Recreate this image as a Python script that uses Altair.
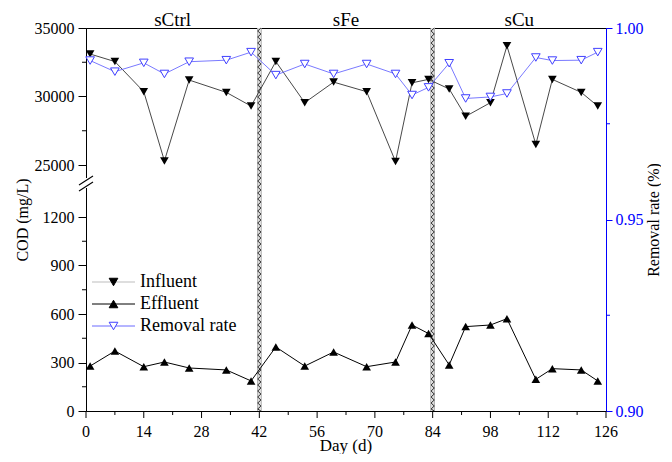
import altair as alt
import pandas as pd

# ---------------- data ----------------
days = [1, 7, 14, 19, 25, 34, 40, 46, 53, 60, 68, 75, 79, 83, 88, 92, 98, 102, 109, 113, 120, 124]
influent = [33100, 32550, 30350, 25300, 31200, 30300, 29300, 32550, 29550, 31050, 30350,
            25250, 31000, 31250, 30550, 28550, 29550, 33700, 26500, 31250, 30300, 29300]
effluent = [278, 371, 274, 303, 266, 254, 186, 396, 278, 365, 274,
            303, 532, 479, 285, 522, 532, 571, 196, 262, 254, 186]
removal = [0.9915, 0.9886, 0.9909, 0.9880, 0.9912, 0.9916, 0.9937, 0.9877, 0.9906, 0.9880, 0.9906,
           0.9880, 0.9825, 0.9845, 0.9908, 0.9816, 0.9820, 0.9829, 0.9923, 0.9915, 0.9916, 0.9937]

sections = ["sCtrl", "sFe", "sCu"]
section_mid = [21, 63, 105]
dividers = [42, 84]
x_ticks = [0, 14, 28, 42, 56, 70, 84, 98, 112, 126]
x_minor = [7, 21, 35, 49, 63, 77, 91, 105, 119]
cod_ticks = [0, 300, 600, 900, 1200, 25000, 30000, 35000]
cod_minor = [150, 450, 750, 1050, 27500, 32500]
rate_ticks = [0.90, 0.95, 1.00]
rate_minor = [0.925, 0.975]
legend_labels = ["Influent", "Effluent", "Removal rate"]
legend_line_colors = ["#bdbdbd", "black", "#6a6aff"]
legend_shapes = ["triangle-down", "triangle-up", "triangle-down"]
legend_fills = ["black", "black", "white"]
legend_strokes = ["black", "black", "#4040ff"]

# ---------------- layout constants ----------------
W, H = 520, 383
BOT = 194 / 1200          # px per mg/L, lower segment
TB = 246                  # px height of 25000
TS = 137 / 10000          # px per mg/L, upper segment
FONT = "Liberation Serif"
BLUE = "#0000ff"


def u_of(v):
    return v * BOT if v < 5000 else TB + (v - 25000) * TS


def u_expr(f):
    return f"datum.{f} < 5000 ? datum.{f} * {BOT} : {TB} + (datum.{f} - 25000) * {TS}"


def r_of(r):
    return (r - 0.9) / 0.1 * H


def r_expr(f):
    return f"(datum.{f} - 0.9) / 0.1 * {H}"


lab_expr = "''"
for v in reversed(cod_ticks):
    lab_expr = f"abs(datum.value - {u_of(v):.4f}) < 0.5 ? '{v}' : ({lab_expr})"
rlab_expr = "''"
for v in reversed(rate_ticks):
    rlab_expr = f"abs(datum.value - {r_of(v):.4f}) < 0.5 ? '{v:.2f}' : ({rlab_expr})"

df = pd.DataFrame({"day": days, "influent": influent, "effluent": effluent, "removal": removal})

xs = alt.Scale(domain=[0, 126], nice=False, zero=False)
ys = alt.Scale(domain=[0, H], nice=False, zero=False)

y_axis = alt.Axis(orient="left", values=[round(u_of(v), 4) for v in cod_ticks],
                  labelExpr=lab_expr,
                  title="COD (mg/L)", tickSize=8, labelPadding=4, titlePadding=4,
                  labelFontSize=16, titleFontSize=16, grid=False,
                  domainColor="black", tickColor="black", labelColor="black", titleColor="black",
                  labelFont=FONT, titleFont=FONT, titleFontWeight="normal")

r_axis = alt.Axis(orient="right", values=[round(r_of(v), 4) for v in rate_ticks],
                  labelExpr=rlab_expr, title="Removal rate (%)",
                  titleAngle=270, titleBaseline="top", tickSize=6, labelPadding=3, titlePadding=2,
                  labelFontSize=16, titleFontSize=16, grid=False,
                  domainColor=BLUE, tickColor=BLUE, labelColor=BLUE, titleColor="black",
                  labelFont=FONT, titleFont=FONT, titleFontWeight="normal")

base = alt.Chart(df).transform_calculate(
    u_in=u_expr("influent"), u_ef=u_expr("effluent"), u_r=r_expr("removal"))

# dividers (gray band + zigzag)
div_df = pd.DataFrame({"d": dividers})
band_edge = alt.Chart(div_df).mark_rule(color="#9a9a9a", strokeWidth=4.6).encode(
    x=alt.X("d:Q", scale=xs, axis=None), y=alt.value(0), y2=alt.value(H))
band_fill = alt.Chart(div_df).mark_rule(color="#dcdcdc", strokeWidth=3.4).encode(
    x=alt.X("d:Q", scale=xs, axis=None), y=alt.value(0), y2=alt.value(H))

s = H / 2
a = 1.6 / s
step = 3.0 / s
path = f"M{a:.5f},-1"
yy = -1.0
i = 0
while yy < 1 - 1e-9:
    yy = min(1.0, yy + step)
    xx = -a if i % 2 == 0 else a
    path += f"L{xx:.5f},{yy:.5f}"
    i += 1
zig = alt.Chart(div_df).mark_point(shape=path, filled=False, stroke="black", strokeWidth=0.8,
                                   size=H * H, opacity=1).encode(
    x=alt.X("d:Q", scale=xs, axis=None), y=alt.value(H / 2))

# series
inf_line = base.mark_line(color="#333333", strokeWidth=0.9).encode(
    x=alt.X("day:Q", scale=xs, axis=None), y=alt.Y("u_in:Q", scale=ys, axis=y_axis))
inf_pts = base.mark_point(shape="triangle-down", filled=True, color="black", size=75, opacity=1).encode(
    x=alt.X("day:Q", scale=xs, axis=None), y=alt.Y("u_in:Q", scale=ys, axis=None))
eff_line = base.mark_line(color="black", strokeWidth=1).encode(
    x=alt.X("day:Q", scale=xs, axis=None), y=alt.Y("u_ef:Q", scale=ys, axis=None))
eff_pts = base.mark_point(shape="triangle-up", filled=True, color="black", size=75, opacity=1).encode(
    x=alt.X("day:Q", scale=xs, axis=None), y=alt.Y("u_ef:Q", scale=ys, axis=None))
rem_line = base.mark_line(color="#6a6aff", strokeWidth=0.9).encode(
    x=alt.X("day:Q", scale=xs, axis=None), y=alt.Y("u_r:Q", scale=ys, axis=r_axis))
rem_pts = base.mark_point(shape="triangle-down", filled=True, fill="white", stroke="#4040ff",
                          strokeWidth=1, size=75, opacity=1).encode(
    x=alt.X("day:Q", scale=xs, axis=None), y=alt.Y("u_r:Q", scale=ys, axis=None))

# x axis drawn through the x scale: major ticks, labels, minor ticks, title
xt_df = pd.DataFrame({"t": x_ticks})
xmaj = alt.Chart(xt_df).mark_rule(color="black", strokeWidth=1).encode(
    x=alt.X("t:Q", scale=xs, axis=None), y=alt.value(H), y2=alt.value(H + 7))
xlab = alt.Chart(xt_df).mark_text(font=FONT, fontSize=16, baseline="middle", color="black").encode(
    x=alt.X("t:Q", scale=xs, axis=None), y=alt.value(H + 21), text="t:N")
xmin = alt.Chart(pd.DataFrame({"m": x_minor})).mark_rule(color="black", strokeWidth=1).encode(
    x=alt.X("m:Q", scale=xs, axis=None), y=alt.value(H), y2=alt.value(H + 4))
dummy = pd.DataFrame({"k": [0]})
xtitle = alt.Chart(dummy).mark_text(font=FONT, fontSize=17, baseline="middle", color="black").encode(
    x=alt.value(W / 2), y=alt.value(H + 35), text=alt.value("Day (d)"))

ymin = alt.Chart(pd.DataFrame({"c": cod_minor})).transform_calculate(u=u_expr("c")).mark_rule(
    color="black", strokeWidth=1).encode(
    y=alt.Y("u:Q", scale=ys, axis=None), x=alt.value(0), x2=alt.value(-4))
rmin = alt.Chart(pd.DataFrame({"r": rate_minor})).transform_calculate(u=r_expr("r")).mark_rule(
    color=BLUE, strokeWidth=1).encode(
    y=alt.Y("u:Q", scale=ys, axis=None), x=alt.value(W), x2=alt.value(W + 4))

# section labels
sec = alt.Chart(pd.DataFrame({"label": sections, "mid": section_mid})).mark_text(
    font=FONT, fontSize=19, baseline="alphabetic", color="black").encode(
    x=alt.X("mid:Q", scale=xs, axis=None), y=alt.value(-2), text="label:N")

# axis break marks
gap = alt.Chart(dummy).mark_rule(color="white", strokeWidth=4).encode(
    x=alt.value(0), y=alt.value(150), y2=alt.value(160))
slashes = []
for y0 in [152.5, 158.5]:
    slashes.append(alt.Chart(dummy).mark_rule(color="black", strokeWidth=1.1).encode(
        x=alt.value(-7), x2=alt.value(7), y=alt.value(y0 + 4.5), y2=alt.value(y0 - 4.5)))

# legend
leg_layers = []
for i, lab in enumerate(legend_labels):
    yl = 254 + 22 * i
    leg_layers.append(alt.Chart(dummy).mark_rule(color=legend_line_colors[i], strokeWidth=1).encode(
        x=alt.value(6), x2=alt.value(49), y=alt.value(yl)))
    leg_layers.append(alt.Chart(dummy).mark_point(shape=legend_shapes[i], filled=True,
                                                  fill=legend_fills[i], stroke=legend_strokes[i],
                                                  strokeWidth=1, size=75, opacity=1).encode(
        x=alt.value(27.5), y=alt.value(yl)))
    leg_layers.append(alt.Chart(dummy).mark_text(font=FONT, fontSize=18, align="left",
                                                 baseline="middle", color="black").encode(
        x=alt.value(54), y=alt.value(yl), text=alt.value(lab)))

chart = alt.layer(
    band_edge, band_fill, zig, inf_line, eff_line, rem_line, inf_pts, eff_pts, rem_pts,
    xmaj, xlab, xmin, xtitle, ymin, rmin, sec, gap, *slashes, *leg_layers
).resolve_axis(y="independent").properties(
    width=W, height=H,
    padding={"left": 6, "top": 3, "right": 0, "bottom": 0},
).configure_view(stroke="black", strokeWidth=1)

chart.save("out.html", embed_options={"renderer": "svg", "actions": False})
